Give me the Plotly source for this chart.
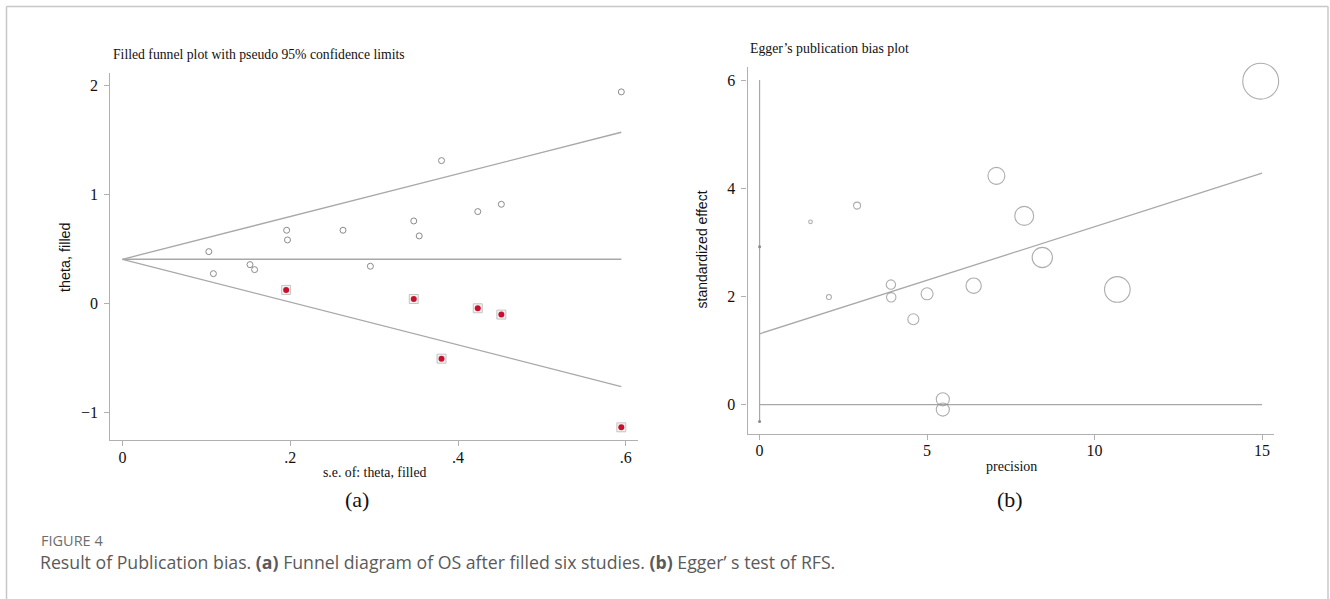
import plotly.graph_objects as go

# ---------------- data: (a) filled funnel plot ----------------
se_observed = [0.5946, 0.3803, 0.4516, 0.4235, 0.3472, 0.3537, 0.2629, 0.1957,
               0.1967, 0.1029, 0.1084, 0.1520, 0.1575, 0.2955]
theta_observed = [1.937, 1.307, 0.907, 0.840, 0.754, 0.617, 0.669, 0.669,
                  0.580, 0.473, 0.271, 0.354, 0.308, 0.339]
se_filled = [0.1951, 0.3472, 0.4235, 0.4516, 0.3803, 0.5946]
theta_filled = [0.122, 0.039, -0.046, -0.104, -0.508, -1.137]
limit_se = [0.0, 0.5946]
limit_center = [0.403, 0.403]
limit_upper = [0.403, 1.567]
limit_lower = [0.403, -0.764]
funnel_xticks = [0, 0.2, 0.4, 0.6]
funnel_xticklabels = ["0", ".2", ".4", ".6"]
funnel_yticks = [-1, 0, 1, 2]
funnel_yticklabels = ["\u22121", "0", "1", "2"]

# ---------------- data: (b) Egger's plot ----------------
precision = [14.96, 7.07, 7.90, 8.44, 10.68, 2.91, 1.52, 2.07, 3.92, 3.93,
             5.00, 6.39, 4.59, 5.47, 5.47]
std_effect = [5.98, 4.23, 3.49, 2.72, 2.13, 3.68, 3.38, 1.99, 2.22, 1.985,
              2.05, 2.20, 1.58, 0.10, -0.09]
egger_fit_x = [0.0, 15.0]
egger_fit_y = [1.31, 4.28]
egger_zero_x = [0.0, 15.0]
egger_zero_y = [0.0, 0.0]
intercept_line_y = [6.0, -0.31]
intercept_ci = [2.92, -0.31]
egger_xticks = [0, 5, 10, 15]
egger_yticks = [0, 2, 4, 6]

W, H = 1330, 599
LINE = "#a8a8a8"
AXIS = "#b0b0b0"
SERIF = "Liberation Serif"
SANS = "Liberation Sans"


def px_x(p):
    return p / W


def px_y(p):
    return 1 - p / H


fig = go.Figure()

# ---- panel (a) ----
for ys in (limit_upper, limit_center, limit_lower):
    fig.add_trace(go.Scatter(x=limit_se, y=ys, mode="lines",
                             line=dict(color=LINE, width=1.3),
                             xaxis="x", yaxis="y", hoverinfo="skip"))
fig.add_trace(go.Scatter(x=se_observed, y=theta_observed, mode="markers",
                         marker=dict(symbol="circle-open", size=6,
                                     line=dict(color="#8a8a8a", width=1),
                                     color="#8a8a8a"),
                         xaxis="x", yaxis="y", cliponaxis=False))
fig.add_trace(go.Scatter(x=se_filled, y=theta_filled, mode="markers",
                         marker=dict(symbol="square", size=9, color="#f2f2f2",
                                     line=dict(color="#c4c4c4", width=1)),
                         xaxis="x", yaxis="y", cliponaxis=False))
fig.add_trace(go.Scatter(x=se_filled, y=theta_filled, mode="markers",
                         marker=dict(symbol="circle", size=6, color="#c8102e",
                                     line=dict(width=0)),
                         xaxis="x", yaxis="y", cliponaxis=False))

# ---- panel (b) ----
fig.add_trace(go.Scatter(x=[0, 0], y=intercept_line_y, mode="lines",
                         line=dict(color=LINE, width=1.2),
                         xaxis="x2", yaxis="y2"))
fig.add_trace(go.Scatter(x=[0, 0], y=intercept_ci, mode="markers",
                         marker=dict(symbol="circle", size=3, color="#888888"),
                         xaxis="x2", yaxis="y2", cliponaxis=False))
fig.add_trace(go.Scatter(x=egger_zero_x, y=egger_zero_y, mode="lines",
                         line=dict(color=LINE, width=1.3),
                         xaxis="x2", yaxis="y2"))
fig.add_trace(go.Scatter(x=egger_fit_x, y=egger_fit_y, mode="lines",
                         line=dict(color=LINE, width=1.3),
                         xaxis="x2", yaxis="y2"))
fig.add_trace(go.Scatter(x=precision, y=std_effect, mode="markers",
                         marker=dict(symbol="circle-open",
                                     size=[2.4 * p for p in precision],
                                     color="#8a8a8a",
                                     line=dict(color="#8a8a8a", width=1.1)),
                         xaxis="x2", yaxis="y2", cliponaxis=False))

tickfont = dict(family=SERIF, size=16, color="#111111")
axis_common = dict(showline=True, linecolor=AXIS, linewidth=1.3,
                   ticks="outside", ticklen=5, tickcolor=AXIS, tickwidth=1,
                   showgrid=False, zeroline=False, tickfont=tickfont,
                   fixedrange=True)

fig.update_layout(
    width=W, height=H,
    margin=dict(l=0, r=0, t=0, b=0),
    paper_bgcolor="white", plot_bgcolor="white",
    showlegend=False,
    xaxis=dict(domain=[px_x(110.3), px_x(637.6)], range=[-0.0145, 0.614],
               tickvals=funnel_xticks, ticktext=funnel_xticklabels,
               anchor="y", ticklabelstandoff=-3, **axis_common),
    yaxis=dict(domain=[px_y(440.3), px_y(73)], range=[-1.256, 2.11],
               tickvals=funnel_yticks, ticktext=funnel_yticklabels,
               anchor="x", ticklabelstandoff=3, **axis_common),
    xaxis2=dict(domain=[px_x(747.6), px_x(1274.1)], range=[-0.358, 15.36],
                tickvals=egger_xticks, anchor="y2", ticklabelstandoff=-3,
                **axis_common),
    yaxis2=dict(domain=[px_y(434), px_y(66.7)], range=[-0.542, 6.248],
                tickvals=egger_yticks, anchor="x2", ticklabelstandoff=3,
                **axis_common),
)

ann = []


def text(x, y, s, size, family, color="#111111", xanchor="center",
         angle=0):
    ann.append(dict(x=px_x(x), y=px_y(y), xref="paper", yref="paper",
                    text=s, showarrow=False, xanchor=xanchor,
                    yanchor="middle", textangle=angle,
                    font=dict(size=size, family=family, color=color)))


text(110.7, 54.3, "Filled funnel plot with pseudo 95% confidence limits",
     13.7, SERIF, xanchor="left")
text(65, 257, "theta, filled", 14.4, SANS, angle=-90)
text(374.6, 472.7, "s.e. of: theta, filled", 13.8, SERIF)
text(357, 499, "(a)", 22, SERIF)

text(747.6, 48.7, "Egger\u2019s publication bias plot", 13.8, SERIF,
     xanchor="left")
text(701.5, 250, "standardized effect", 14, SANS, angle=-90)
text(1011.3, 466, "precision", 14, SERIF)
text(1009.6, 499, "(b)", 22, SERIF)

text(39, 540, "FIGURE 4", 14.5, "Open Sans", color="#6d6d6d", xanchor="left")
text(38, 562,
     "Result of Publication bias. <b>(a)</b> Funnel diagram of OS after "
     "filled six studies. <b>(b)</b> Egger\u2019 s test of RFS.",
     17.7, "Open Sans", color="#5a5a5a", xanchor="left")

fig.update_layout(annotations=ann)

# outer frame (top, left, right)
for x0, y0, x1, y1 in [(6.5, 6.5, 1328, 6.5), (6.5, 6.5, 6.5, 599),
                       (1328, 6.5, 1328, 599)]:
    fig.add_shape(type="line", xref="paper", yref="paper",
                  x0=px_x(x0), y0=px_y(y0), x1=px_x(x1), y1=px_y(y1),
                  line=dict(color="#c8c8c8", width=1.5))

fig.write_html(
    "out.html",
    config={"displayModeBar": False, "staticPlot": False},
    post_script="document.body.style.margin='0';"
                "document.body.style.padding='0';"
                "document.body.style.overflow='hidden';",
)
